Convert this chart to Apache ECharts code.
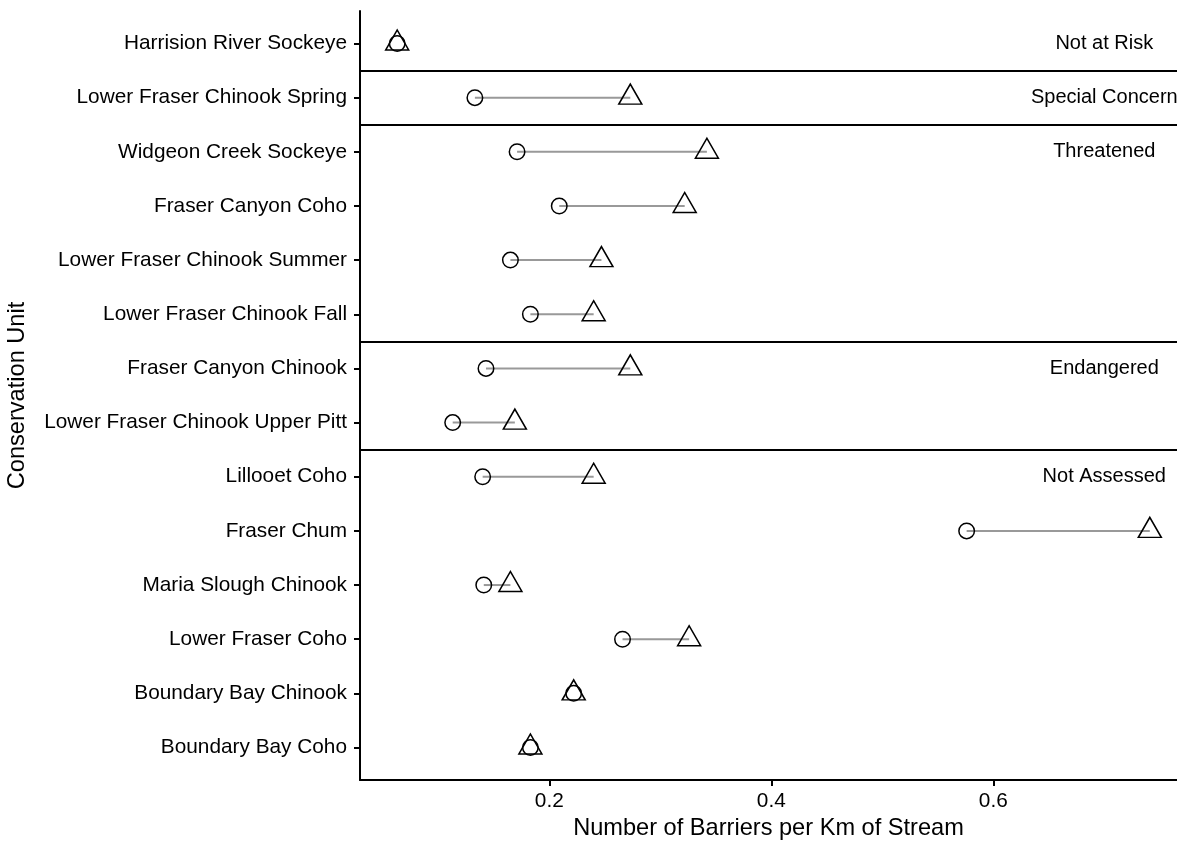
<!DOCTYPE html>
<html>
<head>
<meta charset="utf-8">
<script src="https://cdn.jsdelivr.net/npm/echarts@6/dist/echarts.min.js"></script>
<style>
html,body{margin:0;padding:0;background:#fff;}
#chart{width:1177px;height:842px;}
</style>
</head>
<body>
<div id="chart"></div>
<script>
// ---- data ----
const categories = [
  "Harrision River Sockeye",
  "Lower Fraser Chinook Spring",
  "Widgeon Creek Sockeye",
  "Fraser Canyon Coho",
  "Lower Fraser Chinook Summer",
  "Lower Fraser Chinook Fall",
  "Fraser Canyon Chinook",
  "Lower Fraser Chinook Upper Pitt",
  "Lillooet Coho",
  "Fraser Chum",
  "Maria Slough Chinook",
  "Lower Fraser Coho",
  "Boundary Bay Chinook",
  "Boundary Bay Coho"
];
const circleValues   = [0.063, 0.133, 0.171, 0.209, 0.165, 0.183, 0.143, 0.113, 0.140, 0.576, 0.141, 0.266, 0.222, 0.183];
const triangleValues = [0.063, 0.273, 0.342, 0.322, 0.247, 0.240, 0.273, 0.169, 0.240, 0.741, 0.165, 0.326, 0.222, 0.183];
const statusLabels = ["Not at Risk", "Special Concern", "Threatened", "Endangered", "Not Assessed"];
const statusRows   = [1, 2, 3, 7, 9];
const separatorRows = [1.5, 2.5, 6.5, 8.5];
const xTickValues = [0.2, 0.4, 0.6];
const LABEL_X = 0.7;

// ---- build ----
const rows = categories.map((c, i) => i + 1);
const segData = categories.map((c, i) => [circleValues[i], triangleValues[i], rows[i]]);
const circleData = categories.map((c, i) => [circleValues[i], rows[i]]);
const triData = categories.map((c, i) => [triangleValues[i], rows[i]]);
const statusData = statusLabels.map((s, i) => ({ value: [LABEL_X, statusRows[i]], name: s }));

const FONT = "'Liberation Sans', Arial, Helvetica, sans-serif";
const chart = echarts.init(document.getElementById('chart'), null, { renderer: 'canvas' });

chart.setOption({
  animation: false,
  backgroundColor: '#ffffff',
  grid: { left: 360, right: 0, top: 11, bottom: 62, containLabel: false, outerBoundsMode: 'none' },
  xAxis: {
    type: 'value',
    min: 0.0295,
    max: 0.7655,
    name: 'Number of Barriers per Km of Stream',
    nameLocation: 'middle',
    nameGap: 20,
    nameTextStyle: { fontFamily: FONT, fontSize: 23.6, color: '#000', verticalAlign: 'top' },
    axisLine: { show: true, onZero: false, lineStyle: { color: '#000', width: 2 } },
    axisTick: { show: true, length: 6, lineStyle: { color: '#000', width: 2 }, customValues: xTickValues },
    axisLabel: { show: true, fontFamily: FONT, fontSize: 20.8, color: '#000', margin: 11, customValues: xTickValues,
      formatter: v => String(Math.round(v * 10) / 10) },
    splitLine: { show: false }
  },
  yAxis: {
    type: 'value',
    inverse: true,
    min: 0.4,
    max: 14.6,
    name: 'Conservation Unit',
    nameLocation: 'middle',
    nameGap: 331,
    nameRotate: 90,
    nameTextStyle: { fontFamily: FONT, fontSize: 23.6, color: '#000' },
    axisLine: { show: true, onZero: false, lineStyle: { color: '#000', width: 2 } },
    axisTick: { show: true, length: 6, lineStyle: { color: '#000', width: 2 }, customValues: rows },
    axisLabel: { show: true, fontFamily: FONT, fontSize: 20.8, color: '#000', margin: 13, customValues: rows,
      formatter: v => categories[Math.round(v) - 1] || '' },
    splitLine: { show: false }
  },
  series: [
    {
      type: 'custom',
      name: 'segments',
      coordinateSystem: 'cartesian2d',
      encode: { x: [0, 1], y: 2 },
      data: segData,
      z: 2,
      renderItem: function (params, api) {
        const p1 = api.coord([api.value(0), api.value(2)]);
        const p2 = api.coord([api.value(1), api.value(2)]);
        return {
          type: 'line',
          shape: { x1: p1[0], y1: p1[1], x2: p2[0], y2: p2[1] },
          style: { stroke: '#999999', lineWidth: 2 }
        };
      },
      markLine: {
        silent: true,
        symbol: ['none', 'none'],
        label: { show: false },
        lineStyle: { color: '#000', width: 2, type: 'solid', opacity: 1 },
        data: separatorRows.map(r => ({ yAxis: r }))
      }
    },
    {
      type: 'scatter',
      name: 'circle',
      data: circleData,
      symbol: 'circle',
      symbolSize: 15.5,
      z: 3,
      itemStyle: { color: 'rgba(0,0,0,0)', borderColor: '#000', borderWidth: 1.5, opacity: 1 }
    },
    {
      type: 'scatter',
      name: 'triangle',
      data: triData,
      symbol: 'triangle',
      symbolSize: [23, 20],
      symbolOffset: [0, -3.5],
      z: 3,
      itemStyle: { color: 'rgba(0,0,0,0)', borderColor: '#000', borderWidth: 1.5, opacity: 1 }
    },
    {
      type: 'scatter',
      name: 'status',
      data: statusData,
      symbolSize: 0,
      z: 4,
      itemStyle: { opacity: 1 },
      label: {
        show: true,
        position: 'inside',
        formatter: p => p.name,
        fontFamily: FONT,
        fontSize: 20,
        color: '#000',
        opacity: 1,
        align: 'center',
        verticalAlign: 'middle'
      }
    }
  ]
});
</script>
</body>
</html>
